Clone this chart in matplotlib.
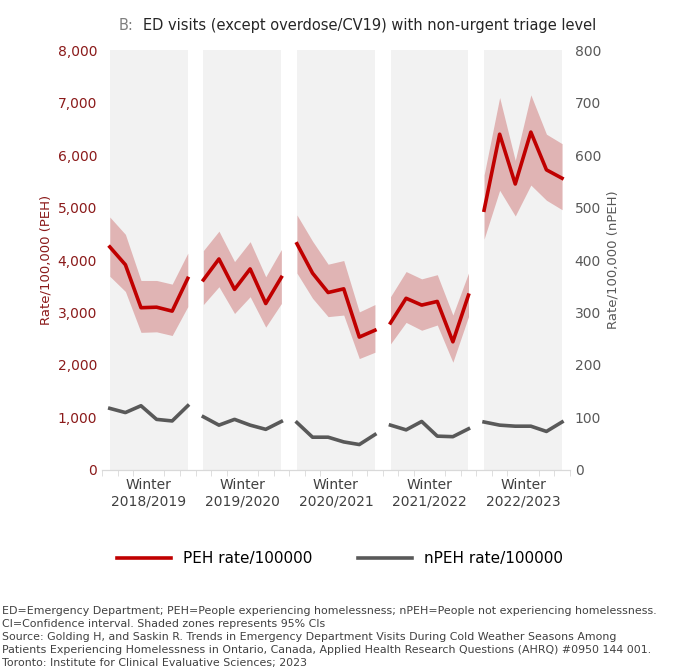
import matplotlib.pyplot as plt
import numpy as np

seasons = ["2018/2019", "2019/2020", "2020/2021", "2021/2022", "2022/2023"]
peh = [[4250, 3910, 3090, 3100, 3025, 3650],
       [3620, 4020, 3440, 3830, 3170, 3670],
       [4310, 3750, 3380, 3450, 2530, 2660],
       [2800, 3270, 3140, 3210, 2440, 3330],
       [4950, 6400, 5450, 6440, 5720, 5560]]
peh_hi = [[4820, 4490, 3610, 3610, 3540, 4130],
          [4180, 4550, 3970, 4350, 3680, 4200],
          [4860, 4360, 3920, 3990, 3010, 3150],
          [3300, 3780, 3640, 3720, 2950, 3750],
          [5620, 7100, 5900, 7150, 6400, 6220]]
peh_lo = [[3690, 3400, 2620, 2630, 2560, 3110],
          [3150, 3490, 2980, 3300, 2720, 3170],
          [3750, 3270, 2920, 2950, 2120, 2240],
          [2400, 2810, 2660, 2760, 2050, 2920],
          [4400, 5330, 4840, 5430, 5140, 4960]]
npeh = [[117, 109, 122, 96, 93, 122],
        [101, 85, 96, 85, 77, 92],
        [90, 62, 62, 53, 48, 67],
        [85, 76, 92, 64, 63, 78],
        [91, 85, 83, 83, 73, 91]]

red = "#c00000"
grey = "#595959"
fig = plt.figure(figsize=(6.8, 6.71), dpi=100)
ax = fig.add_axes([0.15, 0.3, 0.688, 0.625])
ax2 = ax.twinx()

n = 6
for g in range(5):
    x = np.arange(n) + g * n + 0.5
    ax2.axvspan(x[0], x[-1], color="#f2f2f2", zorder=0, lw=0)
    ax.fill_between(x, peh_lo[g], peh_hi[g], color="#e0b4b4", lw=0, zorder=1)
    ax.plot(x, peh[g], color=red, lw=2.6, zorder=3, label="PEH rate/100000" if g == 0 else None)
    ax2.plot(x, npeh[g], color=grey, lw=2.6, zorder=3, label="nPEH rate/100000" if g == 0 else None)

ax.set_xlim(0, 30)
ax.set_ylim(0, 8000)
ax2.set_ylim(0, 800)
ax.set_yticks(range(0, 8001, 1000))
ax.set_yticklabels([f"{v:,}" for v in range(0, 8001, 1000)], color="#8b1a1a", fontsize=10)
ax2.set_yticks(range(0, 801, 100))
ax2.tick_params(axis="y", labelcolor="#595959", labelsize=10, length=0)
ax.tick_params(axis="y", length=0)
ax.set_ylabel("Rate/100,000 (PEH)", color="#8b1a1a", fontsize=9.5)
ax2.set_ylabel("Rate/100,000 (nPEH)", color="#595959", fontsize=9.5)
ax.set_xticks(np.arange(0, 31), minor=True)
ax.set_xticks([g * n + 3 for g in range(5)])
ax.set_xticklabels([f"Winter\n{s}" for s in seasons], fontsize=10, color="#404040")
ax.tick_params(axis="x", which="major", length=0, pad=6)
ax.tick_params(axis="x", which="minor", length=4, color="#d9d9d9")
for a in (ax, ax2):
    for s in ("top", "left", "right"):
        a.spines[s].set_visible(False)
    a.spines["bottom"].set_color("#d9d9d9")
ax.set_zorder(ax2.get_zorder() + 1)
ax.patch.set_visible(False)

fig.text(0.175, 0.955, "B:", fontsize=10.5, color="#7f7f7f")
fig.text(0.21, 0.955, "ED visits (except overdose/CV19) with non-urgent triage level", fontsize=10.5, color="#262626")

h1, l1 = ax.get_legend_handles_labels()
h2, l2 = ax2.get_legend_handles_labels()
fig.legend(h1 + h2, l1 + l2, loc="center", bbox_to_anchor=(0.5, 0.167), ncol=2, frameon=False,
           fontsize=11, handlelength=3.5, columnspacing=3)

foot = ("ED=Emergency Department; PEH=People experiencing homelessness; nPEH=People not experiencing homelessness.\n"
        "CI=Confidence interval. Shaded zones represents 95% CIs\n"
        "Source: Golding H, and Saskin R. Trends in Emergency Department Visits During Cold Weather Seasons Among\n"
        "Patients Experiencing Homelessness in Ontario, Canada, Applied Health Research Questions (AHRQ) #0950 144 001.\n"
        "Toronto: Institute for Clinical Evaluative Sciences; 2023")
fig.text(0.003, 0.005, foot, fontsize=7.9, color="#404040", linespacing=1.35, va="bottom")

fig.savefig("out.png", dpi=100)
